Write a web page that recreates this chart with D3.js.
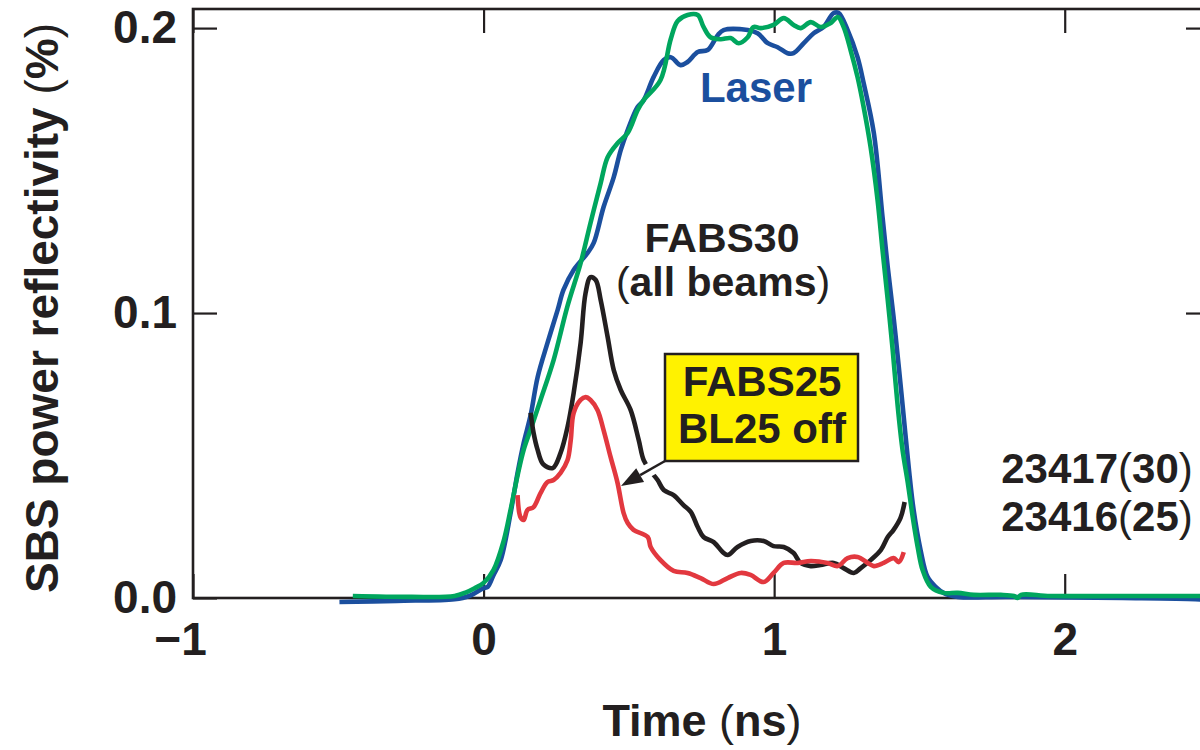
<!DOCTYPE html>
<html>
<head>
<meta charset="utf-8">
<script src="https://cdn.jsdelivr.net/npm/d3@7"></script>
<style>
  html, body { margin: 0; padding: 0; background: #fff; }
  svg { display: block; font-family: "Liberation Sans", Arial, Helvetica, sans-serif; }
</style>
</head>
<body>
<svg id="chart" width="1200" height="750"></svg>
<script>
// 时间轴 (ns) 与反射率 (%) 数据，[t, value]
const laserBlue = [
  [-0.496, -0.0014], [-0.3, -0.001], [-0.1, -0.0004], [-0.05, 0.0007], [0.0, 0.0035],
  [0.014, 0.0039], [0.034, 0.008], [0.059, 0.0133], [0.093, 0.0298], [0.117, 0.0439],
  [0.138, 0.0544], [0.162, 0.0642], [0.186, 0.0775], [0.220, 0.0895], [0.255, 0.1011],
  [0.275, 0.1081], [0.310, 0.1151], [0.358, 0.1211], [0.379, 0.1246], [0.413, 0.1372],
  [0.448, 0.1477], [0.472, 0.1572], [0.496, 0.1642], [0.530, 0.1723], [0.551, 0.1747],
  [0.585, 0.1828], [0.620, 0.1888], [0.644, 0.1898], [0.678, 0.1870], [0.702, 0.1881],
  [0.737, 0.1916], [0.771, 0.1923], [0.806, 0.1975], [0.826, 0.1993], [0.909, 0.1993],
  [0.943, 0.1982], [0.978, 0.1947], [1.012, 0.1933], [1.046, 0.1912], [1.067, 0.1912],
  [1.102, 0.1947], [1.136, 0.1982], [1.170, 0.2004], [1.205, 0.2053], [1.222, 0.2053],
  [1.253, 0.1993], [1.287, 0.1898], [1.308, 0.1807], [1.343, 0.1632], [1.373, 0.1337],
  [1.391, 0.1161], [1.411, 0.0986], [1.429, 0.0811], [1.446, 0.0635], [1.463, 0.0460],
  [1.480, 0.0309], [1.504, 0.0168], [1.528, 0.0074], [1.556, 0.0039], [1.583, 0.0018],
  [1.632, 0.0004], [1.8, 0.0004], [2.2, 0.0], [2.45, -0.0004], [2.5, -0.0007]
];

const laserGreen = [
  [-0.45, 0.0007], [-0.25, 0.0004], [-0.10, 0.0007], [-0.06, 0.002], [-0.03, 0.0035],
  [0.0, 0.0053], [0.034, 0.0098], [0.069, 0.02], [0.093, 0.031], [0.117, 0.043],
  [0.138, 0.052], [0.165, 0.06], [0.196, 0.0695], [0.241, 0.0835], [0.289, 0.1025],
  [0.334, 0.1175], [0.368, 0.1316], [0.403, 0.1456], [0.427, 0.1547], [0.461, 0.1596],
  [0.496, 0.1632], [0.530, 0.1712], [0.551, 0.1747], [0.609, 0.1818], [0.644, 0.1961],
  [0.668, 0.2025], [0.702, 0.2046], [0.737, 0.2046], [0.757, 0.2004], [0.781, 0.1968],
  [0.816, 0.1961], [0.850, 0.1965], [0.878, 0.1947], [0.909, 0.1968], [0.929, 0.2004],
  [0.954, 0.2000], [0.998, 0.2011], [1.033, 0.2035], [1.067, 0.2011], [1.091, 0.2000],
  [1.126, 0.2021], [1.160, 0.2004], [1.195, 0.2018], [1.219, 0.2039], [1.239, 0.2004],
  [1.263, 0.1923], [1.287, 0.1828], [1.308, 0.1723], [1.332, 0.1582], [1.356, 0.1396],
  [1.373, 0.1221], [1.391, 0.1046], [1.408, 0.0870], [1.418, 0.0754], [1.429, 0.0635],
  [1.442, 0.0519], [1.460, 0.0404], [1.477, 0.0284], [1.494, 0.0179], [1.511, 0.0098],
  [1.539, 0.0039], [1.583, 0.0018], [1.632, 0.0018], [1.687, 0.0011], [1.78, 0.0011],
  [1.825, 0.0007], [1.838, 0.0], [1.850, 0.0011], [1.95, 0.0007], [2.2, 0.0007], [2.5, 0.0007]
];

const fabs30 = [
  [0.162, 0.065], [0.172, 0.058], [0.186, 0.052], [0.205, 0.047], [0.238, 0.0456],
  [0.265, 0.0509], [0.289, 0.060], [0.310, 0.0719], [0.334, 0.0895], [0.351, 0.107],
  [0.368, 0.1126], [0.386, 0.1116], [0.403, 0.1046], [0.427, 0.0916], [0.448, 0.080],
  [0.472, 0.073], [0.506, 0.066], [0.534, 0.0554], [0.551, 0.0484], [0.575, 0.0445],
  [0.599, 0.0414], [0.620, 0.0379], [0.654, 0.0361], [0.688, 0.0326], [0.713, 0.0302],
  [0.737, 0.0249], [0.757, 0.0214], [0.792, 0.0196], [0.823, 0.0161], [0.840, 0.0151],
  [0.874, 0.0179], [0.919, 0.0200], [0.964, 0.0200], [0.998, 0.0182], [1.033, 0.0179],
  [1.067, 0.0158], [1.091, 0.0123], [1.126, 0.0112], [1.160, 0.0116], [1.205, 0.0123],
  [1.239, 0.0105], [1.274, 0.0088], [1.298, 0.0105], [1.332, 0.0133], [1.367, 0.0168],
  [1.391, 0.0214], [1.411, 0.0239], [1.435, 0.0281], [1.449, 0.0337]
];

const fabs25 = [
  [0.117, 0.0361], [0.127, 0.0284], [0.138, 0.0274], [0.151, 0.0309], [0.172, 0.0319],
  [0.196, 0.0368], [0.220, 0.0407], [0.241, 0.0414], [0.265, 0.0439], [0.289, 0.0484],
  [0.300, 0.0554], [0.310, 0.0649], [0.334, 0.0695], [0.351, 0.0705], [0.368, 0.0695],
  [0.392, 0.0660], [0.413, 0.0589], [0.437, 0.0495], [0.461, 0.0404], [0.482, 0.0298],
  [0.496, 0.0263], [0.516, 0.0239], [0.565, 0.0214], [0.575, 0.0179], [0.609, 0.0133],
  [0.654, 0.0095], [0.702, 0.0088], [0.747, 0.0070], [0.792, 0.0049], [0.840, 0.0070],
  [0.885, 0.0088], [0.919, 0.0081], [0.964, 0.0056], [0.998, 0.0088], [1.033, 0.0123],
  [1.081, 0.0123], [1.126, 0.0130], [1.184, 0.0123], [1.219, 0.0112], [1.253, 0.0140],
  [1.287, 0.0144], [1.322, 0.0123], [1.343, 0.0112], [1.377, 0.0123], [1.411, 0.0140],
  [1.429, 0.0126], [1.446, 0.0161]
];

const xTicks = [-1, 0, 1, 2];
const yTicks = [0, 0.1, 0.2];
const xDomain = [-1, 2.5];
const yDomain = [0, 0.2067];

// 颜色
const BLUE = '#1b4f9e';
const GREEN = '#00a65e';
const RED = '#e2383f';
const INK = '#231f20';
const YELLOW = '#fff200';

const svg = d3.select('#chart');

const x = d3.scaleLinear().domain(xDomain).range([193, 1210]);
const y = d3.scaleLinear().domain(yDomain).range([598, 9]);

const tickFont = g => g
  .style('font-size', '46px')
  .style('font-weight', 'bold')
  .style('font-family', '"Liberation Sans", Arial, sans-serif')
  .call(s => s.select('.domain').remove())
  .call(s => s.selectAll('line').attr('stroke', INK).attr('stroke-width', 2.2))
  .call(s => s.selectAll('text').attr('fill', INK));

// 坐标轴（刻度朝内）
svg.append('g')
  .attr('transform', `translate(0,${y(0)})`)
  .call(d3.axisBottom(x).tickValues(xTicks).tickSizeInner(-24).tickSizeOuter(0).tickPadding(24)
    .tickFormat(d => d < 0 ? '\u2212' + Math.abs(d) : String(d)))
  .call(tickFont)
  .call(g => g.selectAll('text').attr('dx', d => d < 0 ? -13 : 0));

svg.append('g')
  .attr('transform', `translate(0,${y(yDomain[1])})`)
  .call(d3.axisTop(x).tickValues(xTicks).tickSizeInner(-24).tickSizeOuter(0).tickFormat(''))
  .call(tickFont);

svg.append('g')
  .attr('transform', `translate(${x(-1)},0)`)
  .call(d3.axisLeft(y).tickValues(yTicks).tickSizeInner(-24).tickSizeOuter(0).tickPadding(16)
    .tickFormat(d3.format('.1f')))
  .call(tickFont);

svg.append('g')
  .attr('transform', `translate(${x(xDomain[1])},0)`)
  .call(d3.axisRight(y).tickValues(yTicks).tickSizeInner(-24).tickSizeOuter(0).tickFormat(''))
  .call(tickFont);

// 边框
svg.append('rect')
  .attr('x', x(xDomain[0]))
  .attr('y', y(yDomain[1]))
  .attr('width', x(xDomain[1]) - x(xDomain[0]))
  .attr('height', y(0) - y(yDomain[1]))
  .attr('fill', 'none')
  .attr('stroke', INK)
  .attr('stroke-width', 2.6);

// 曲线
const line = d3.line()
  .x(d => x(d[0]))
  .y(d => y(d[1]))
  .curve(d3.curveCatmullRom.alpha(0.5));

const series = [
  { data: laserBlue, color: BLUE },
  { data: laserGreen, color: GREEN },
  { data: fabs30, color: INK },
  { data: fabs25, color: RED }
];

series.forEach(s => {
  svg.append('path')
    .datum(s.data)
    .attr('d', line)
    .attr('fill', 'none')
    .attr('stroke', s.color)
    .attr('stroke-width', 4.6)
    .attr('stroke-linejoin', 'round')
    .attr('stroke-linecap', 'butt');
});

// 文本工具：括号用常规字重
function label(txt, px, py, opts = {}) {
  const t = svg.append('text')
    .attr('x', px)
    .attr('y', py)
    .attr('text-anchor', opts.anchor || 'middle')
    .attr('fill', opts.color || INK)
    .style('font-size', (opts.size || 42) + 'px')
    .style('font-weight', 'bold');
  if (opts.rotate) t.attr('transform', `rotate(${opts.rotate},${px},${py})`);
  txt.split(/([()])/).filter(p => p.length).forEach(p => {
    t.append('tspan')
      .style('font-weight', p === '(' || p === ')' ? 'normal' : 'bold')
      .text(p);
  });
  return t;
}

// 轴标题
label('Time (ns)', 702, 736, { size: 45 });
label('SBS power reflectivity (%)', 58, 308, { size: 46, rotate: -90 });

// 注释
label('Laser', 756, 102, { size: 42, color: BLUE });
label('FABS30', 722, 252, { size: 41 });
label('(all beams)', 723, 296, { size: 41 });
label('23417(30)', 1097, 483, { size: 42 });
label('23416(25)', 1097, 531, { size: 42 });

// 黄色标签框
svg.append('rect')
  .attr('x', 665).attr('y', 354)
  .attr('width', 193).attr('height', 107)
  .attr('fill', YELLOW)
  .attr('stroke', INK)
  .attr('stroke-width', 2.5);
label('FABS25', 762, 396, { size: 42 });
label('BL25 off', 762, 443, { size: 42 });

// 箭头（带白色衬底，切断黑线）
const a0 = [665, 461], a1 = [621, 486];
const lerp = (p, q, k) => [p[0] + (q[0] - p[0]) * k, p[1] + (q[1] - p[1]) * k];
const h0 = lerp(a0, a1, 0.12), h1 = lerp(a0, a1, 0.6);
svg.append('line')
  .attr('x1', h0[0]).attr('y1', h0[1]).attr('x2', h1[0]).attr('y2', h1[1])
  .attr('stroke', '#fff').attr('stroke-width', 13);

const ang = Math.atan2(a1[1] - a0[1], a1[0] - a0[0]);
const headLen = 22, headW = 8;
const base = [a1[0] - headLen * Math.cos(ang), a1[1] - headLen * Math.sin(ang)];
svg.append('line')
  .attr('x1', a0[0]).attr('y1', a0[1]).attr('x2', base[0]).attr('y2', base[1])
  .attr('stroke', INK).attr('stroke-width', 2.5);
svg.append('path')
  .attr('d', d3.line()([
    a1,
    [base[0] + headW * Math.sin(ang), base[1] - headW * Math.cos(ang)],
    [base[0] - headW * Math.sin(ang), base[1] + headW * Math.cos(ang)]
  ]) + 'Z')
  .attr('fill', INK);
</script>
</body>
</html>
